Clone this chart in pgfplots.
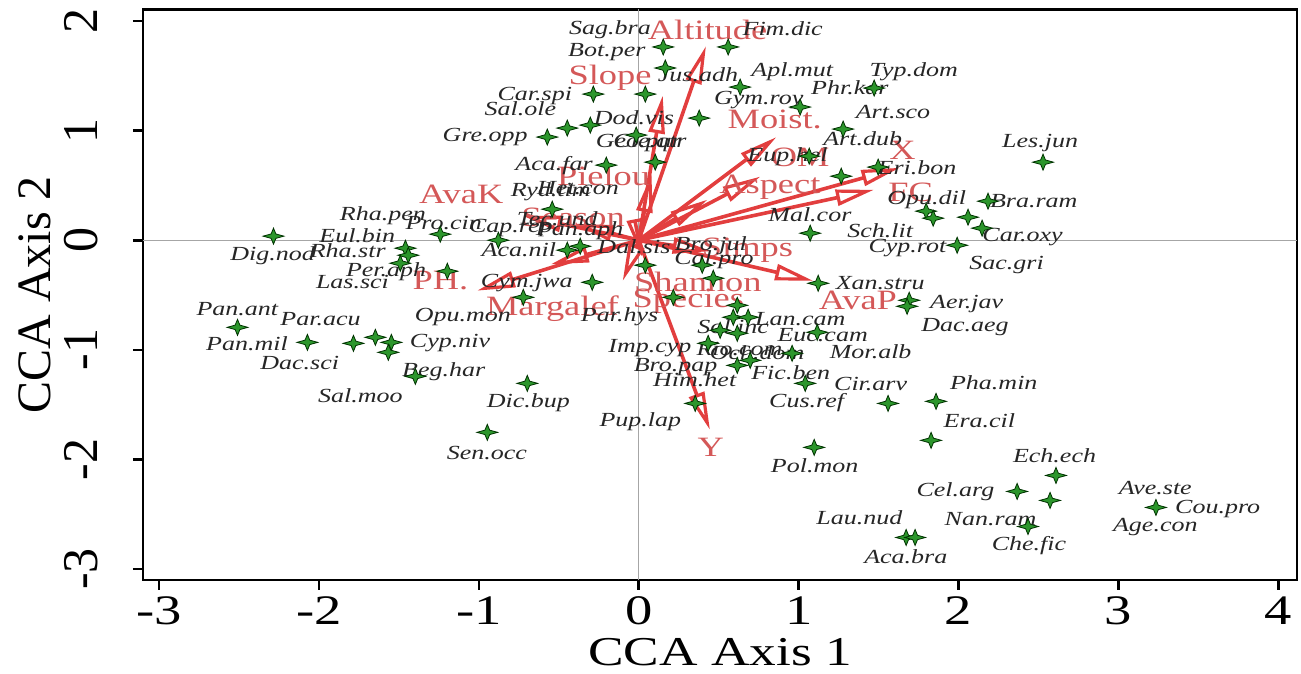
\documentclass[border=0pt]{standalone}
\usepackage{fontspec}
\setmainfont{Liberation Serif}[FakeStretch=1.3]
\newfontfamily\plainrm{Liberation Serif}
\usepackage{pgfplots}
\usepackage{pgfplotstable}
\pgfplotsset{compat=1.18}
\usetikzlibrary{arrows.meta}
\definecolor{arrowred}{RGB}{226,62,62}
\definecolor{labred}{RGB}{212,88,88}
\definecolor{stargreen}{RGB}{44,150,44}
\tikzset{
  spl/.style={font=\fontsize{10}{10}\selectfont\itshape, inner sep=0pt, text=black!85},
  rl/.style={font=\fontsize{14}{14}\selectfont, inner sep=0pt, text=labred},
  arr/.style={color=arrowred, line width=1.8pt,
     -{Triangle[open, length=19pt, width=8pt, line width=1.6pt]}},
}
\pgfdeclareplotmark{star4}{%
  \pgfpathmoveto{\pgfqpoint{0pt}{4.0pt}}%
  \pgfpathlineto{\pgfqpoint{1.2pt}{1.1pt}}%
  \pgfpathlineto{\pgfqpoint{5.2pt}{0pt}}%
  \pgfpathlineto{\pgfqpoint{1.2pt}{-1.1pt}}%
  \pgfpathlineto{\pgfqpoint{0pt}{-4.0pt}}%
  \pgfpathlineto{\pgfqpoint{-1.2pt}{-1.1pt}}%
  \pgfpathlineto{\pgfqpoint{-5.2pt}{0pt}}%
  \pgfpathlineto{\pgfqpoint{-1.2pt}{1.1pt}}%
  \pgfpathclose
  \pgfusepathqfillstroke}
\pgfplotstableread{
x y
0.153 1.763
0.559 1.763
0.166 1.571
-0.284 1.333
0.041 1.333
0.634 1.397
1.009 1.215
1.472 1.388
1.278 1.014
-0.447 1.023
-0.303 1.050
-0.572 0.941
0.378 1.114
-0.016 0.959
0.103 0.712
-0.203 0.685
1.066 0.767
1.266 0.584
1.497 0.667
1.072 0.064
-0.541 0.283
-0.878 0.000
-0.447 -0.091
-0.366 -0.055
0.041 -0.228
-1.241 0.055
-2.284 0.037
-1.459 -0.073
-1.441 -0.137
-1.491 -0.210
-1.197 -0.283
-0.722 -0.521
-0.291 -0.384
0.397 -0.228
0.466 -0.347
0.216 -0.521
1.122 -0.393
2.528 0.712
2.184 0.356
1.797 0.265
1.841 0.201
2.059 0.210
2.147 0.110
1.991 -0.046
1.691 -0.548
1.678 -0.603
0.616 -0.594
0.591 -0.703
0.684 -0.703
0.509 -0.822
0.616 -0.849
1.116 -0.840
0.434 -0.941
0.959 -1.032
0.616 -1.142
0.697 -1.096
1.041 -1.306
0.353 -1.489
1.859 -1.470
1.559 -1.489
1.828 -1.826
1.097 -1.890
2.609 -2.146
2.366 -2.292
2.572 -2.374
3.234 -2.438
2.434 -2.612
1.672 -2.712
1.728 -2.712
-2.509 -0.795
-2.072 -0.932
-1.784 -0.941
-1.647 -0.886
-1.547 -0.932
-1.566 -1.023
-1.397 -1.242
-0.697 -1.306
-0.947 -1.753
}\species
\begin{document}
\begin{tikzpicture}
\useasboundingbox (-71.5pt,-47pt) rectangle (579pt,290pt);
\begin{axis}[
  at={(0,0)}, anchor=south west,
  scale only axis, width=577pt, height=285.25pt,
  xmin=-3.1, xmax=4.116, ymin=-3.1, ymax=2.105,
  axis line style={line width=1.4pt},
  xtick={-3,-2,-1,0,1,2,3,4}, ytick={-3,-2,-1,0,1,2},
  xticklabels={-3,-2,-1,0,1,2,3,4},
  yticklabels={-3,-2,-1,0,1,2},
  tick align=outside, tick pos=left,
  major tick length=5pt,
  tick style={line width=1.3pt, black},
  xticklabel style={font=\fontsize{21}{21}\selectfont},
  yticklabel style={font=\plainrm\fontsize{25}{25}\selectfont, rotate=90, anchor=south},
  yticklabel shift=14pt,
  xlabel={CCA Axis 1}, ylabel={CCA Axis 2},
  xlabel style={font=\fontsize{20.5}{21}\selectfont, at={(axis description cs:0.5,-0.127)}, anchor=center},
  ylabel style={font=\plainrm\fontsize{24}{24}\selectfont, at={(axis description cs:-0.0936,0.5)}, anchor=center},
]
\addplot[gray!70, line width=0.5pt, forget plot] coordinates {(0,-3.1) (0,2.105)};
\addplot[gray!70, line width=0.5pt, forget plot] coordinates {(-3.1,0) (4.116,0)};
% environmental arrows
\addplot[arr] coordinates {(0,0) (0.42,1.77)};
\addplot[arr] coordinates {(0,0) (0.15,1.32)};
\addplot[arr] coordinates {(0,0) (0.86,0.94)};
\addplot[arr] coordinates {(0,0) (0.76,0.58)};
\addplot[arr] coordinates {(0,0) (0.43,0.37)};
\addplot[arr] coordinates {(0,0) (1.63,0.66)};
\addplot[arr] coordinates {(0,0) (1.47,0.46)};
\addplot[arr] coordinates {(0,0) (0.08,0.60)};
\addplot[arr] coordinates {(0,0) (-0.72,0.22)};
\addplot[arr] coordinates {(0,0) (-0.40,0.15)};
\addplot[arr] coordinates {(0,0) (-1.01,-0.46)};
\addplot[arr] coordinates {(0,0) (-0.55,-0.22)};
\addplot[arr] coordinates {(0,0) (-0.10,-0.37)};
\addplot[arr] coordinates {(0,0) (0.02,-0.15)};
\addplot[arr] coordinates {(0,0) (0.45,-0.10)};
\addplot[arr] coordinates {(0,0) (1.09,-0.37)};
\addplot[arr] coordinates {(0,0) (0.445,-1.73)};
% species scores
\addplot[only marks, mark=star4, mark options={fill=stargreen, draw=black!80!green, line width=0.4pt}] table[x=x,y=y] {\species};
% variable labels
\node[rl] at (axis cs:0.43,1.92) {Altitude};
\node[rl] at (axis cs:-0.18,1.48) {Slope};
\node[rl] at (axis cs:0.85,1.10) {Moist.};
\node[rl] at (axis cs:1.01,0.76) {OM};
\node[rl] at (axis cs:1.65,0.82) {X};
\node[rl] at (axis cs:0.82,0.48) {Aspect};
\node[rl] at (axis cs:1.70,0.44) {FC};
\node[rl] at (axis cs:-0.22,0.59) {Pielou};
\node[rl] at (axis cs:-1.11,0.42) {AvaK};
\node[rl] at (axis cs:-0.41,0.21) {Season};
\node[rl] at (axis cs:0.68,-0.09) {Simps};
\node[rl] at (axis cs:0.37,-0.38) {Shannon};
\node[rl] at (axis cs:0.31,-0.56) {Species};
\node[rl] at (axis cs:-0.54,-0.62) {Margalef};
\node[rl] at (axis cs:-1.24,-0.37) {PH.};
\node[rl] at (axis cs:1.37,-0.55) {AvaP};
\node[rl] at (axis cs:0.45,-1.89) {Y};
% species labels
\node[spl] at (axis cs:-0.18,1.92) {Sag.bra};
\node[spl] at (axis cs:0.90,1.93) {Fim.dic};
\node[spl] at (axis cs:-0.20,1.72) {Bot.per};
\node[spl] at (axis cs:0.37,1.51) {Jus.adh};
\node[spl] at (axis cs:0.96,1.54) {Apl.mut};
\node[spl] at (axis cs:1.72,1.54) {Typ.dom};
\node[spl] at (axis cs:-0.65,1.32) {Car.spi};
\node[spl] at (axis cs:1.32,1.39) {Phr.kar};
\node[spl] at (axis cs:-0.74,1.20) {Sal.ole};
\node[spl] at (axis cs:0.75,1.28) {Gym.roy};
\node[spl] at (axis cs:-0.03,1.12) {Dod.vis};
\node[spl] at (axis cs:1.59,1.17) {Art.sco};
\node[spl] at (axis cs:-0.96,0.94) {Gre.opp};
\node[spl] at (axis cs:0.00,0.89) {Geo.pur};
\node[spl] at (axis cs:0.07,0.89) {Cle.qtr};
\node[spl] at (axis cs:1.40,0.93) {Art.dub};
\node[spl] at (axis cs:2.51,0.89) {Les.jun};
\node[spl] at (axis cs:0.93,0.76) {Eup.hel};
\node[spl] at (axis cs:-0.53,0.68) {Aca.far};
\node[spl] at (axis cs:1.74,0.66) {Eri.bon};
\node[spl] at (axis cs:-0.38,0.48) {Het.con};
\node[spl] at (axis cs:-0.55,0.44) {Ryd.tim};
\node[spl] at (axis cs:1.80,0.37) {Opu.dil};
\node[spl] at (axis cs:2.47,0.36) {Bra.ram};
\node[spl] at (axis cs:-1.60,0.22) {Rha.pen};
\node[spl] at (axis cs:1.07,0.23) {Mal.cor};
\node[spl] at (axis cs:-0.51,0.20) {Tec.und};
\node[spl] at (axis cs:-1.22,0.16) {Pro.cin};
\node[spl] at (axis cs:-0.80,0.11) {Cap.rep};
\node[spl] at (axis cs:-0.37,0.09) {Pan.aph};
\node[spl] at (axis cs:1.51,0.09) {Sch.lit};
\node[spl] at (axis cs:-1.76,0.04) {Eul.bin};
\node[spl] at (axis cs:2.40,0.03) {Car.oxy};
\node[spl] at (axis cs:-0.03,-0.06) {Dal.sis};
\node[spl] at (axis cs:0.45,-0.05) {Bro.jul};
\node[spl] at (axis cs:-0.75,-0.09) {Aca.nil};
\node[spl] at (axis cs:-2.29,-0.14) {Dig.nod};
\node[spl] at (axis cs:-1.82,-0.10) {Rha.str};
\node[spl] at (axis cs:1.68,-0.07) {Cyp.rot};
\node[spl] at (axis cs:0.47,-0.18) {Cal.pro};
\node[spl] at (axis cs:2.30,-0.23) {Sac.gri};
\node[spl] at (axis cs:-1.58,-0.29) {Per.aph};
\node[spl] at (axis cs:-1.79,-0.38) {Las.sci};
\node[spl] at (axis cs:-0.70,-0.39) {Cym.jwa};
\node[spl] at (axis cs:1.51,-0.39) {Xan.stru};
\node[spl] at (axis cs:2.05,-0.58) {Aer.jav};
\node[spl] at (axis cs:-2.51,-0.63) {Pan.ant};
\node[spl] at (axis cs:-1.10,-0.70) {Opu.mon};
\node[spl] at (axis cs:-1.99,-0.72) {Par.acu};
\node[spl] at (axis cs:-0.12,-0.70) {Par.hys};
\node[spl] at (axis cs:1.01,-0.72) {Lan.cam};
\node[spl] at (axis cs:2.04,-0.79) {Dac.aeg};
\node[spl] at (axis cs:0.59,-0.79) {Sol.inc};
\node[spl] at (axis cs:1.15,-0.87) {Euc.cam};
\node[spl] at (axis cs:-2.45,-0.94) {Pan.mil};
\node[spl] at (axis cs:-1.18,-0.94) {Cyp.niv};
\node[spl] at (axis cs:0.07,-0.98) {Imp.cyp};
\node[spl] at (axis cs:0.63,-0.99) {Rio.com};
\node[spl] at (axis cs:0.74,-1.03) {Och.dom};
\node[spl] at (axis cs:1.45,-1.02) {Mor.alb};
\node[spl] at (axis cs:-2.12,-1.12) {Dac.sci};
\node[spl] at (axis cs:0.23,-1.16) {Bro.pap};
\node[spl] at (axis cs:-1.22,-1.20) {Beg.har};
\node[spl] at (axis cs:0.95,-1.21) {Fic.ben};
\node[spl] at (axis cs:0.35,-1.27) {Him.het};
\node[spl] at (axis cs:1.45,-1.31) {Cir.arv};
\node[spl] at (axis cs:2.22,-1.30) {Pha.min};
\node[spl] at (axis cs:1.05,-1.48) {Cus.ref};
\node[spl] at (axis cs:-1.74,-1.42) {Sal.moo};
\node[spl] at (axis cs:-0.69,-1.48) {Dic.bup};
\node[spl] at (axis cs:2.13,-1.65) {Era.cil};
\node[spl] at (axis cs:0.01,-1.66) {Pup.lap};
\node[spl] at (axis cs:-0.95,-1.94) {Sen.occ};
\node[spl] at (axis cs:2.60,-1.97) {Ech.ech};
\node[spl] at (axis cs:1.10,-2.06) {Pol.mon};
\node[spl] at (axis cs:3.23,-2.26) {Ave.ste};
\node[spl] at (axis cs:1.98,-2.29) {Cel.arg};
\node[spl] at (axis cs:3.62,-2.45) {Cou.pro};
\node[spl] at (axis cs:1.38,-2.53) {Lau.nud};
\node[spl] at (axis cs:2.20,-2.54) {Nan.ram};
\node[spl] at (axis cs:3.23,-2.62) {Age.con};
\node[spl] at (axis cs:2.44,-2.79) {Che.fic};
\node[spl] at (axis cs:1.67,-2.89) {Aca.bra};
\end{axis}
\end{tikzpicture}
\end{document}
